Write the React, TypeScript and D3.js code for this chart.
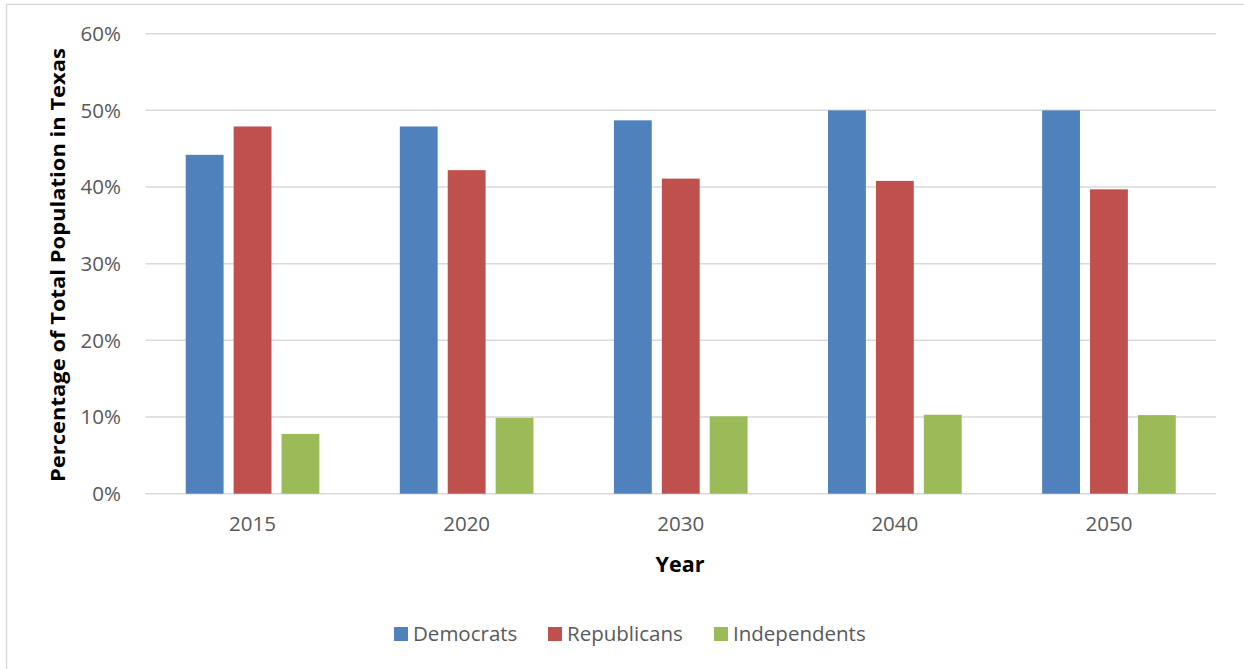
import React from "react";
import * as d3 from "d3";

const years = ["2015", "2020", "2030", "2040", "2050"];
const seriesNames = ["Democrats", "Republicans", "Independents"];
const democrats = [44.2, 47.9, 48.7, 50.0, 50.0];
const republicans = [47.9, 42.2, 41.1, 40.8, 39.7];
const independents = [7.8, 9.9, 10.1, 10.3, 10.25];
const colors = ["#4F81BD", "#C0504D", "#9BBB59"];
const yTicks = [0, 10, 20, 30, 40, 50, 60];

const W = 1244;
const H = 669;
const FONT = "'Open Sans', 'Noto Sans', sans-serif";

export default function App() {
  const series = [democrats, republicans, independents];
  const left = 145.5;
  const right = 1216;
  const top = 33.7;
  const bottom = 493.7;

  const x0 = d3.scaleBand().domain(years).range([left, right]).paddingInner(0).paddingOuter(0);
  const x1 = d3
    .scaleBand()
    .domain(seriesNames)
    .range([0, x0.bandwidth()])
    .paddingInner(0.21)
    .paddingOuter(0.84);
  const y = d3.scaleLinear().domain([0, 60]).range([bottom, top]);

  return (
    <svg
      width={W}
      height={H}
      style={{ position: "fixed", left: 0, top: 0, background: "#fff" }}
    >
      <rect x={0} y={0} width={W} height={H} fill="#fff" />
      <rect x={6.5} y={4.5} width={W + 10} height={H + 10} fill="none" stroke="#d9d9d9" strokeWidth={1.5} />
      {yTicks.map((t) => (
        <g key={t}>
          <line x1={left} x2={right} y1={y(t)} y2={y(t)} stroke="#d9d9d9" strokeWidth={1.5} />
          <text
            x={121}
            y={y(t)}
            dy="0.36em"
            textAnchor="end"
            fontFamily={FONT}
            fontSize={20.5}
            fill="#595959"
          >
            {t + "%"}
          </text>
        </g>
      ))}
      {years.map((yr, i) => (
        <g key={yr} transform={`translate(${x0(yr)},0)`}>
          {series.map((s, j) => (
            <rect
              key={j}
              x={x1(seriesNames[j])}
              y={y(s[i])}
              width={x1.bandwidth()}
              height={y(0) - y(s[i])}
              fill={colors[j]}
            />
          ))}
          <text
            x={x0.bandwidth() / 2}
            y={524}
            dy="0.36em"
            textAnchor="middle"
            fontFamily={FONT}
            fontSize={20.5}
            fill="#595959"
          >
            {yr}
          </text>
        </g>
      ))}
      <text
        x={680}
        y={564}
        dy="0.36em"
        textAnchor="middle"
        fontFamily={FONT}
        fontSize={21.5}
        fontWeight="bold"
        fill="#000"
      >
        Year
      </text>
      <text
        transform={`translate(58,265) rotate(-90)`}
        dy="0.36em"
        textAnchor="middle"
        fontFamily={FONT}
        fontSize={20}
        fontWeight="bold"
        fill="#000"
        textLength={434}
        lengthAdjust="spacingAndGlyphs"
      >
        Percentage of Total Population in Texas
      </text>
      {seriesNames.map((n, j) => {
        const lx = [394, 548, 714][j];
        return (
          <g key={n}>
            <rect x={lx} y={627} width={14} height={14} fill={colors[j]} />
            <text
              x={lx + 19}
              y={634}
              dy="0.36em"
              fontFamily={FONT}
              fontSize={20.5}
              fill="#595959"
            >
              {n}
            </text>
          </g>
        );
      })}
    </svg>
  );
}
